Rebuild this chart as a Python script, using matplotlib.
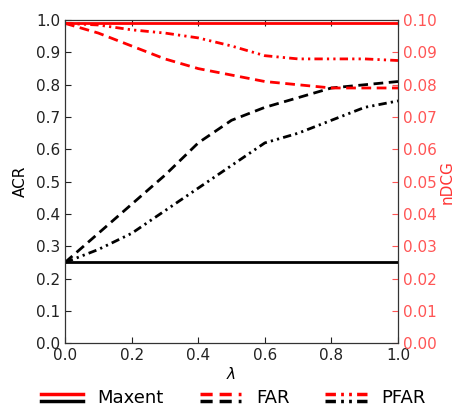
import numpy as np
import matplotlib
matplotlib.use("Agg")
import matplotlib.pyplot as plt
from matplotlib.legend_handler import HandlerBase
from matplotlib.lines import Line2D

lam = [0.0, 0.1, 0.2, 0.3, 0.4, 0.5, 0.6, 0.7, 0.8, 0.9, 1.0]

# ACR (left axis, black)
acr_maxent = [0.25] * 11
acr_far = [0.25, 0.34, 0.43, 0.52, 0.62, 0.69, 0.73, 0.76, 0.79, 0.80, 0.81]
acr_pfar = [0.25, 0.29, 0.34, 0.41, 0.48, 0.55, 0.62, 0.65, 0.69, 0.73, 0.75]

# nDCG (right axis, red)
ndcg_maxent = [0.099] * 11
ndcg_far = [0.099, 0.096, 0.092, 0.088, 0.085, 0.083, 0.081, 0.080, 0.079, 0.079, 0.079]
ndcg_pfar = [0.099, 0.0985, 0.097, 0.096, 0.0945, 0.092, 0.089, 0.088, 0.088, 0.088, 0.0875]

RED = "#ff0000"
DASH = (3.5, 2)
DDOT = (3, 1.5, 0.8, 1.5, 0.8, 1.5)


class TwoLines(HandlerBase):
    def __init__(self, style):
        super().__init__()
        self.style = style

    def create_artists(self, legend, orig_handle, xdescent, ydescent,
                       width, height, fontsize, trans):
        out = []
        for col, yy in [(RED, height * 0.75), ("black", height * 0.15)]:
            ln = Line2D([0 - xdescent, width - xdescent], [yy - ydescent] * 2,
                        color=col, lw=2.5, **self.style)
            ln.set_transform(trans)
            out.append(ln)
        return out


fig = plt.figure(figsize=(4.58, 4.11), dpi=100)
ax = fig.add_axes([0.142, 0.165, 0.727, 0.786])
ax2 = ax.twinx()

ax.plot(lam, acr_maxent, color="black", lw=2)
ax.plot(lam, acr_far, color="black", lw=2, dashes=DASH)
ax.plot(lam, acr_pfar, color="black", lw=2, dashes=DDOT)

ax2.plot(lam, ndcg_maxent, color=RED, lw=2)
ax2.plot(lam, ndcg_far, color=RED, lw=2, dashes=DASH)
ax2.plot(lam, ndcg_pfar, color=RED, lw=2, dashes=DDOT)

ax.set_xlim(0, 1)
ax.set_ylim(0, 1)
ax2.set_ylim(0, 0.1)
ax.set_xticks(np.arange(0, 1.01, 0.2))
ax.set_yticks(np.arange(0, 1.01, 0.1))
ax2.set_yticks(np.arange(0, 0.101, 0.01))
ax.xaxis.set_major_formatter(matplotlib.ticker.FormatStrFormatter("%.1f"))
ax.yaxis.set_major_formatter(matplotlib.ticker.FormatStrFormatter("%.1f"))
ax2.yaxis.set_major_formatter(matplotlib.ticker.FormatStrFormatter("%.2f"))

ax.tick_params(direction="in", top=True, labelsize=11, length=4, width=0.8, colors="#222222")
ax.tick_params(axis="y", left=True, right=False)
ax2.tick_params(direction="in", labelsize=11, length=4, width=0.8, colors="#ff5555")
for sp in ax2.spines.values():
    sp.set_color("#333333")

ax.set_ylabel("ACR", fontsize=11, labelpad=6)
ax.set_xlabel(r"$\lambda$", fontsize=11, labelpad=2)
ax2.set_ylabel("nDCG", fontsize=11, color="#ff3333", labelpad=2)

h1 = Line2D([], [])
h2 = Line2D([], [])
h3 = Line2D([], [])
fig.legend([h1, h2, h3], ["Maxent", "FAR", "PFAR"], loc="lower center",
           bbox_to_anchor=(0.51, -0.03), ncol=3, frameon=False, fontsize=13,
           handlelength=2.3, columnspacing=2.0, handletextpad=0.8,
           handler_map={h1: TwoLines({}),
                        h2: TwoLines({"dashes": DASH}),
                        h3: TwoLines({"dashes": DDOT})})

fig.savefig("out.png", dpi=100)
